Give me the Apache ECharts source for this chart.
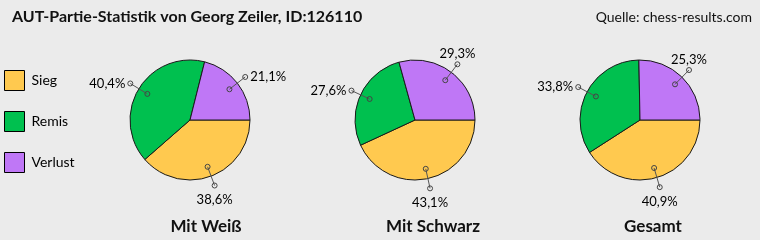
<!DOCTYPE html>
<html><head><meta charset="utf-8">
<script src="https://cdn.jsdelivr.net/npm/echarts@6/dist/echarts.min.js"></script>
<style>html,body{margin:0;padding:0;background:#ebebeb}#c{width:760px;height:240px}</style>
</head><body><div id="c"></div>
<script>
// ---- data ----
const categories = ['Sieg', 'Remis', 'Verlust'];
const chartTitles = ['Mit Weiß', 'Mit Schwarz', 'Gesamt'];
const mitWeiss = [38.6, 40.4, 21.1];
const mitSchwarz = [43.1, 27.6, 29.3];
const gesamt = [40.9, 33.8, 25.3];
const mainTitle = 'AUT-Partie-Statistik von Georg Zeiler, ID:126110';
const sourceText = 'Quelle: chess-results.com';

// ---- styling / layout ----
const FONT = 'Lato';
const colors = ['#FFC94F', '#00C04F', '#BF77F6'];
const centers = [[190, 120], [415, 120], [640, 120]];
const titleX = [201, 428, 648];
const R = 60;
const lineInner = 50, lineOuter = 70, polarR = 80;
// label placement per category (index) and pie
const labelStyles = [
  [{position: 'bottom', distance: 5, offset: [3, 0]}, {position: 'left', distance: 2, offset: [0, -5]}, {position: 'right', distance: 2, offset: [0, -8]}],
  [{position: 'bottom', distance: 5, offset: [1, 0]}, {position: 'left', distance: 2, offset: [0, -6]}, {position: 'top', distance: 1, offset: [8, 0]}],
  [{position: 'bottom', distance: 5, offset: [3, 0]}, {position: 'left', distance: 2, offset: [0, -6]}, {position: 'top', distance: 1, offset: [9, 0]}]
];

const datasets = [mitWeiss, mitSchwarz, gesamt];
const fmt = v => v.toFixed(1).replace('.', ',') + '%';

const series = [];
const polar = [], angleAxis = [], radiusAxis = [];
datasets.forEach((vals, p) => {
  series.push({
    type: 'pie',
    center: centers[p],
    radius: R,
    startAngle: 0,
    clockwise: true,
    silent: true,
    animation: false,
    label: {show: false},
    labelLine: {show: false},
    itemStyle: {borderColor: '#1a1a1a', borderWidth: 1},
    data: categories.map((c, i) => ({name: c, value: vals[i], itemStyle: {color: colors[i]}}))
  });
  polar.push({center: centers[p], radius: polarR});
  angleAxis.push({polarIndex: p, type: 'value', min: 0, max: 100, startAngle: 0, clockwise: true, show: false});
  radiusAxis.push({polarIndex: p, type: 'value', min: 0, max: polarR, show: false});
  const total = vals.reduce((a, b) => a + b, 0);
  let cum = 0;
  vals.forEach((v, i) => {
    const mid = (cum + v / 2) / total * 100;
    cum += v;
    const ls = labelStyles[p][i];
    series.push({
      type: 'line',
      coordinateSystem: 'polar',
      polarIndex: p,
      silent: true,
      animation: false,
      clip: false,
      showSymbol: true,
      showAllSymbol: true,
      symbol: 'circle',
      symbolSize: 5,
      z: 5,
      lineStyle: {color: '#555', width: 1},
      itemStyle: {color: 'rgba(0,0,0,0)', borderColor: '#444', borderWidth: 1},
      labelLayout: {hideOverlap: false},
      data: [
        {value: [lineInner, mid]},
        {value: [lineOuter, mid], label: {
          show: true, formatter: fmt(v), position: ls.position, distance: ls.distance, offset: ls.offset,
          color: '#000', fontFamily: FONT, fontSize: 13
        }}
      ]
    });
  });
});

const chart = echarts.init(document.getElementById('c'), null, {renderer: 'canvas'});
chart.setOption({
  backgroundColor: '#ebebeb',
  animation: false,
  title: [
    {text: mainTitle, left: 7, top: 4, textStyle: {fontFamily: FONT, fontSize: 16, fontWeight: 'bold', color: '#111'}},
    {text: sourceText, right: 3, top: 5, textStyle: {fontFamily: FONT, fontSize: 14, fontWeight: 'normal', color: '#111'}}
  ].concat(chartTitles.map((t, p) => ({
    text: t, left: titleX[p], top: 213, textAlign: 'center',
    textStyle: {fontFamily: FONT, fontSize: 17, fontWeight: 'bold', color: '#111'}
  }))),
  legend: {
    orient: 'vertical', left: 4, top: 70, padding: 0, itemWidth: 20, itemHeight: 20, itemGap: 20,
    icon: 'rect', selectedMode: false, data: categories,
    itemStyle: {borderColor: '#000', borderWidth: 1},
    textStyle: {fontFamily: FONT, fontSize: 14, color: '#000', padding: [0, 0, 0, 2]}
  },
  polar, angleAxis, radiusAxis,
  series
});
</script>
</body></html>
